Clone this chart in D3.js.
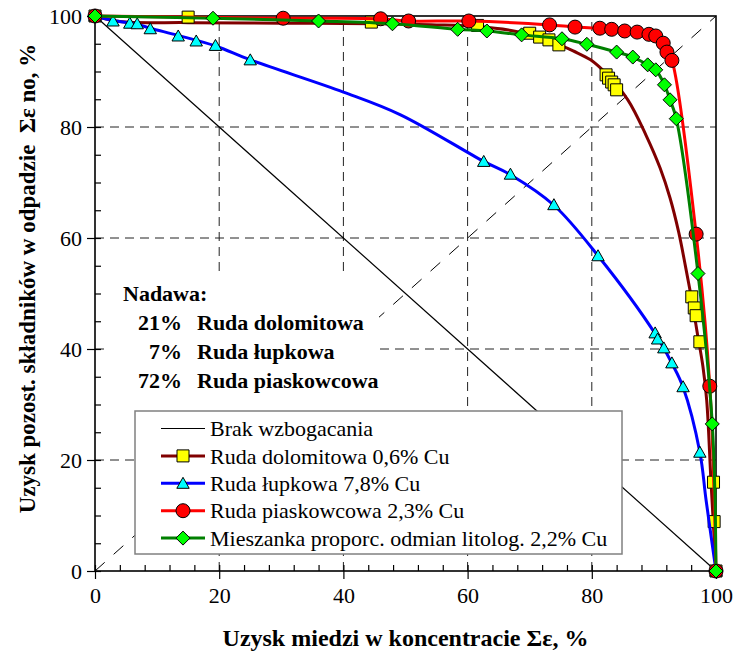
<!DOCTYPE html>
<html><head><meta charset="utf-8">
<script src="https://cdn.jsdelivr.net/npm/d3@7"></script>
<style>body{margin:0;background:#fff} svg{display:block}</style>
</head><body><svg id="chart" width="734" height="654"></svg>
<script>
// Axis ticks
const xTickValues = [0, 20, 40, 60, 80, 100];
const yTickValues = [0, 20, 40, 60, 80, 100];

// Feed composition note
const feedTitle = "Nadawa:";
const feedShares = ["21%", "7%", "72%"];
const feedOres = ["Ruda dolomitowa", "Ruda łupkowa", "Ruda piaskowcowa"];

// Legend
const legendLabels = [
  "Brak wzbogacania",
  "Ruda dolomitowa 0,6% Cu",
  "Ruda łupkowa 7,8% Cu",
  "Ruda piaskowcowa 2,3% Cu",
  "Mieszanka proporc. odmian litolog. 2,2% Cu"
];

// Reference line: no beneficiation
const noBeneficiation = [[0, 100], [100, 0]];
const diagonal = [[0, 0], [100, 100]];

// Dolomitic ore: measured points and fitted curve
const dolomitowaPts = [[0,100],[15,99.8],[44.5,98.9],[61.6,98.3],[70,96.9],[71.6,96.2],[73.1,95.7],[74.7,94.8],
  [82.3,89.4],[82.7,88.8],[83.2,88.1],[83.6,87.6],[84.0,86.7],[96.1,49.4],[96.5,47.4],[96.8,46.0],[97.4,41.3],
  [99.6,16.0],[99.7,8.9],[100,0]];
const dolomitowaCurve = [[0,100],[4,99.0],[15,98.8],[30,98.7],[45,98.6],[55,98.4],[61.6,98.1],[67,97.4],[71,96.4],
  [74,95.2],[77,93.7],[79.8,92.1],[82.5,89.4],[85.8,84.9],[88.7,78.6],[91.0,72.6],[92.6,67.2],[94.0,61.0],
  [95.1,54.8],[96.1,48.8],[97.0,42.8],[97.9,36.8],[98.5,30.8],[99.2,16.0],[100,0]];

// Shale ore
const lupkowaPts = [[0,100],[2.9,99.1],[5.6,98.7],[6.8,98.6],[8.9,97.7],[13.4,96.4],[16.3,95.5],[19.4,94.7],
  [25,92.1],[62.6,73.8],[66.9,71.5],[73.9,66.0],[81,56.8],[90.2,42.9],[90.6,41.8],[91.6,40.2],[92.9,37.5],
  [94.7,33.2],[97.4,21.4],[100,0]];
const lupkowaCurve = [[0,100],[2.9,99.2],[6.8,98.5],[8.9,97.8],[13.4,96.5],[19.4,94.6],[25,92.1],[40,86.3],
  [49.2,82.2],[62.6,73.8],[66.9,71.4],[73.9,65.9],[81,56.8],[90.4,42.4],[92.9,37.4],[94.7,33.1],
  [97.4,21.4],[98.4,12.8],[100,0]];

// Sandstone ore
const piaskowcowaPts = [[0,100],[30.3,99.6],[46,99.5],[50.5,99.1],[60.2,99.1],[73.2,98.4],[77.3,98.0],[81.3,97.8],
  [83.2,97.6],[85.3,97.3],[87.3,97.1],[89.2,96.7],[90.3,96.4],[91.5,95.1],[92.1,93.5],[92.9,92.0],[96.8,60.7],
  [99.0,33.3],[100,0]];

// Proportional blend of lithological types
const mieszankaPts = [[0,100],[19,99.6],[36,99.1],[47.9,98.6],[58.4,97.6],[63.1,97.3],[68.7,96.6],[75.2,95.9],
  [79.2,94.9],[84.0,93.5],[86.6,92.6],[89.0,91.2],[90.3,90.3],[91.7,87.6],[92.6,84.9],[93.6,81.5],[97.1,53.6],
  [99.4,26.5],[100,0]];

const serif = '"Liberation Serif", "Times New Roman", serif';
const svg = d3.select("#chart");
const W = 734, H = 654;
const m = {left: 95, top: 16, right: 18, bottom: 83};
const pw = W - m.left - m.right, ph = H - m.top - m.bottom;

const x = d3.scaleLinear().domain([0, 100]).range([m.left, m.left + pw]);
const y = d3.scaleLinear().domain([0, 100]).range([m.top + ph, m.top]);

const g = svg.append("g");

// dashed grid at inner major ticks
g.selectAll(".vg").data(xTickValues.slice(1, -1)).enter().append("line")
  .attr("x1", d => x(d)).attr("x2", d => x(d)).attr("y1", y(0)).attr("y2", y(100))
  .attr("stroke", "#222").attr("stroke-width", 1).attr("stroke-dasharray", "9,6");
g.selectAll(".hg").data(yTickValues.slice(1, -1)).enter().append("line")
  .attr("y1", d => y(d)).attr("y2", d => y(d)).attr("x1", x(0)).attr("x2", x(100))
  .attr("stroke", "#222").attr("stroke-width", 1).attr("stroke-dasharray", "9,6");

const line = d3.line().x(d => x(d[0])).y(d => y(d[1]));
const smooth = d3.line().x(d => x(d[0])).y(d => y(d[1])).curve(d3.curveCatmullRom.alpha(0.5));

// diagonal and the no-beneficiation line
g.append("path").attr("d", line(diagonal)).attr("fill", "none")
  .attr("stroke", "#000").attr("stroke-width", 1).attr("stroke-dasharray", "13,12");
g.append("path").attr("d", line(noBeneficiation)).attr("fill", "none")
  .attr("stroke", "#000").attr("stroke-width", 1.2);

// axes
const xAxis = d3.axisBottom(x).tickValues(xTickValues).tickSize(8).tickPadding(8).tickFormat(d3.format("d"));
const yAxis = d3.axisLeft(y).tickValues(yTickValues).tickSize(8).tickPadding(5).tickFormat(d3.format("d"));
const xMinor = d3.axisBottom(x).tickValues(d3.range(0, 101, 4)).tickSize(-6).tickFormat("");
const yMinor = d3.axisLeft(y).tickValues(d3.range(0, 101, 5)).tickSize(-6).tickFormat("");

function styleAxis(sel) {
  sel.select(".domain").remove();
  sel.selectAll("line").attr("stroke", "#000").attr("stroke-width", 1.2);
  sel.selectAll("text").attr("font-family", serif).attr("font-size", 22).attr("fill", "#000");
}
g.append("g").attr("transform", `translate(0,${y(0)})`).call(xMinor).call(styleAxis);
g.append("g").attr("transform", `translate(${x(0)},0)`).call(yMinor).call(styleAxis);
g.append("g").attr("transform", `translate(0,${y(0)})`).call(xAxis).call(styleAxis);
g.append("g").attr("transform", `translate(${x(0)},0)`).call(yAxis).call(styleAxis);

// plot frame
g.append("rect").attr("x", x(0)).attr("y", y(100)).attr("width", x(100) - x(0)).attr("height", y(0) - y(100))
  .attr("fill", "none").attr("stroke", "#000").attr("stroke-width", 1.6);

// marker shapes
const markerPath = {
  square: "M-6,-6H6V6H-6Z",
  triangle: "M0,-6L6.2,5H-6.2Z",
  circle: d3.symbol(d3.symbolCircle, 154)(),
  diamond: "M0,-7L7,0L0,7L-7,0Z"
};

const series = [
  {pts: dolomitowaPts, curve: dolomitowaCurve, line: "#800000", fill: "#FFFF00", shape: "square"},
  {pts: lupkowaPts, curve: lupkowaCurve, line: "#0000FF", fill: "#00FFFF", shape: "triangle"},
  {pts: piaskowcowaPts, curve: piaskowcowaPts, line: "#FF0000", fill: "#FF0000", shape: "circle"},
  {pts: mieszankaPts, curve: mieszankaPts, line: "#008000", fill: "#00FF00", shape: "diamond"}
];

series.forEach(s => {
  const sg = g.append("g");
  sg.append("path").attr("d", smooth(s.curve)).attr("fill", "none")
    .attr("stroke", s.line).attr("stroke-width", 3).attr("stroke-linejoin", "round");
  sg.selectAll("path.mk").data(s.pts).enter().append("path").attr("class", "mk")
    .attr("d", markerPath[s.shape])
    .attr("transform", d => `translate(${x(d[0])},${y(d[1])})`)
    .attr("fill", s.fill).attr("stroke", "#000").attr("stroke-width", 1);
});

// feed composition note on a white panel
const note = g.append("g");
note.append("rect").attr("x", 105).attr("y", 274).attr("width", 274).attr("height", 133).attr("fill", "#fff");
note.append("text").attr("x", 123).attr("y", 301).text(feedTitle)
  .attr("font-family", serif).attr("font-weight", "bold").attr("font-size", 22);
feedShares.forEach((t, i) => {
  const yy = 330 + i * 29;
  note.append("text").attr("x", 182).attr("y", yy).attr("text-anchor", "end").text(t)
    .attr("font-family", serif).attr("font-weight", "bold").attr("font-size", 22);
  note.append("text").attr("x", 197).attr("y", yy).text(feedOres[i])
    .attr("font-family", serif).attr("font-weight", "bold").attr("font-size", 22);
});

// legend
const lg = g.append("g");
lg.append("rect").attr("x", 135).attr("y", 411).attr("width", 487).attr("height", 143)
  .attr("fill", "#fff").attr("stroke", "#808080").attr("stroke-width", 1.5);
const legendItems = [{line: "#000", width: 1.2, shape: null}].concat(series.map(s => ({line: s.line, width: 3, shape: s.shape, fill: s.fill})));
legendItems.forEach((it, i) => {
  const yy = 428.5 + i * 27.4;
  lg.append("line").attr("x1", 161).attr("x2", 205).attr("y1", yy).attr("y2", yy)
    .attr("stroke", it.line).attr("stroke-width", it.width);
  if (it.shape) {
    lg.append("path").attr("d", markerPath[it.shape]).attr("transform", `translate(183,${yy})`)
      .attr("fill", it.fill).attr("stroke", "#000").attr("stroke-width", 1);
  }
  lg.append("text").attr("x", 210).attr("y", yy).attr("dy", "0.35em").text(legendLabels[i])
    .attr("font-family", serif).attr("font-size", 22);
});

// axis titles
svg.append("text").attr("x", x(50)).attr("y", 646).attr("text-anchor", "middle")
  .attr("font-family", serif).attr("font-weight", "bold").attr("font-size", 24)
  .text("Uzysk miedzi w koncentracie Σε, %");
svg.append("text").attr("transform", `translate(35,${y(50) - 15}) rotate(-90)`).attr("text-anchor", "middle")
  .attr("font-family", serif).attr("font-weight", "bold").attr("font-size", 23)
  .attr("xml:space", "preserve").style("white-space", "pre")
  .text("Uzysk pozost. składników w odpadzie  Σε no, %");
</script></body></html>
